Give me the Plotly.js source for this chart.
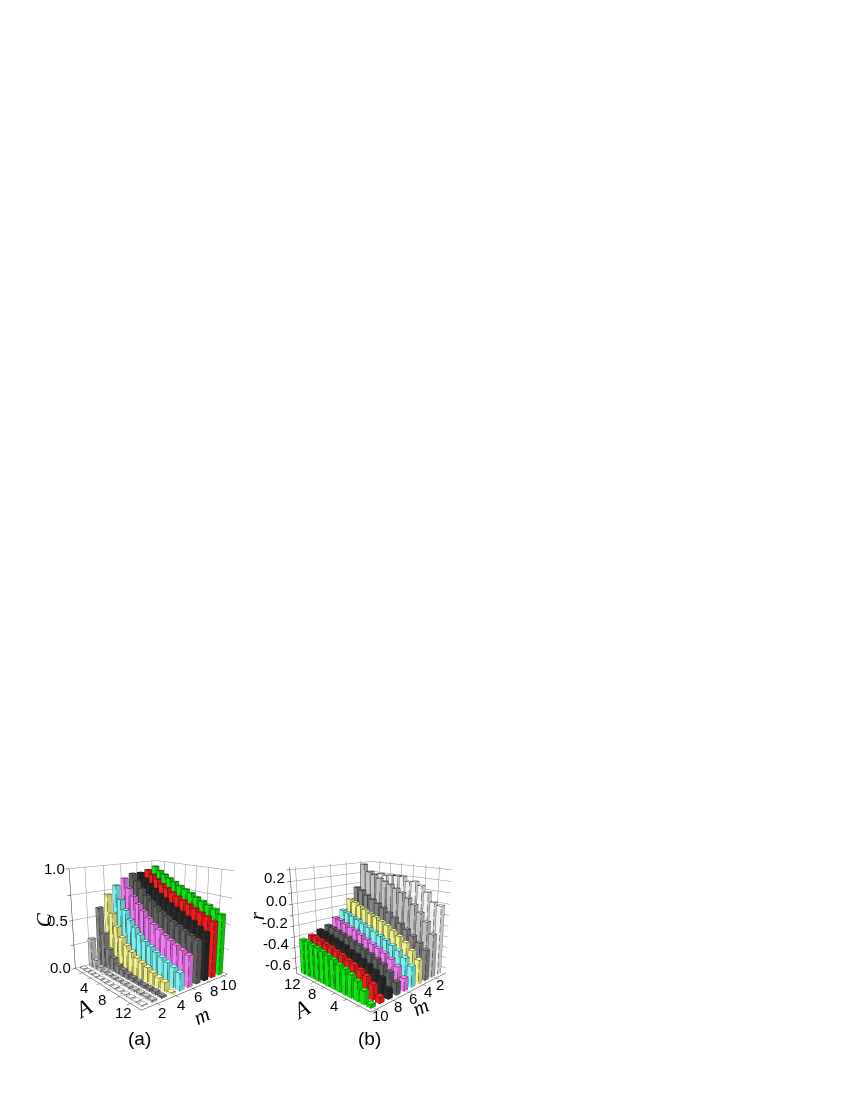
<!DOCTYPE html>
<html>
<head>
<meta charset="utf-8">
<script src="https://cdn.plot.ly/plotly-3.0.1.min.js"></script>
<style>
body { margin: 0; background: #fff; }
#chart { width: 850px; height: 1100px; }
</style>
</head>
<body>
<div id="chart"></div>
<script>
const valoresA = [1, 2, 3, 4, 5, 6, 7, 8, 9, 10, 11, 12, 13];
const valoresM = [1, 2, 3, 4, 5, 6, 7, 8, 9, 10];
const coloresM = ["#ffffff", "#cccccc", "#8c8c8c", "#ffff90", "#80ffff", "#ff80ff", "#666666", "#2c2c2c", "#ff2020", "#10f010"];

// C por fila de m, A = 1..13
const cM1 = [.012, .012, .012, .012, .012, .012, .012, .012, .012, .012, .012, .012, .012];
const cM2 = [.30, .10, .05, .03, .02, .02, .02, .02, .02, .02, .02, .02, .02];
const cM3 = [.60, .35, .21, .14, .09, .07, .055, .045, .035, .03, .03, .03, .02];
const cM4 = [.72, .54, .42, .33, .27, .225, .19, .165, .145, .12, .10, .085, .02];
const cM5 = [.80, .67, .575, .49, .43, .375, .33, .30, .265, .24, .215, .195, .17];
const cM6 = [.86, .77, .70, .635, .58, .525, .48, .445, .41, .38, .355, .33, .305];
const cM7 = [.90, .83, .765, .71, .665, .62, .585, .55, .52, .495, .47, .445, .42];
const cM8 = [.90, .85, .80, .76, .72, .685, .65, .62, .595, .56, .535, .50, .47];
const cM9 = [.92, .88, .84, .80, .77, .735, .705, .68, .655, .63, .605, .58, .55];
const cM10 = [.95, .91, .88, .85, .82, .79, .765, .74, .71, .685, .66, .635, .60];

// r por fila de m, A = 1..13
const rM1 = [-.01, .01, .09, .14, .17, .16, .20, .20, .20, .19, .20, .19, .21];
const rM2 = [-.25, -.15, -.08, -.02, .03, .07, .10, .13, .15, .17, .20, .22, .29];
const rM3 = [-.37, -.32, -.275, -.23, -.19, -.15, -.115, -.08, -.05, -.02, .01, .05, .07];
const rM4 = [-.43, -.365, -.31, -.27, -.235, -.20, -.175, -.15, -.13, -.105, -.08, -.055, -.035];
const rM5 = [-.46, -.405, -.36, -.33, -.30, -.28, -.255, -.23, -.21, -.185, -.165, -.145, -.13];
const rM6 = [-.535, -.455, -.41, -.375, -.35, -.33, -.305, -.28, -.255, -.24, -.22, -.20, -.19];
const rM7 = [-.54, -.475, -.43, -.405, -.38, -.36, -.335, -.32, -.30, -.285, -.27, -.255, -.245];
const rM8 = [-.565, -.495, -.46, -.43, -.405, -.38, -.365, -.34, -.325, -.31, -.295, -.28, -.27];
const rM9 = [-.595, -.515, -.47, -.44, -.415, -.40, -.375, -.36, -.345, -.33, -.315, -.30, -.30];
const rM10 = [-.62, -.535, -.48, -.45, -.425, -.41, -.385, -.37, -.355, -.34, -.335, -.32, -.32];

const filasC = [cM1, cM2, cM3, cM4, cM5, cM6, cM7, cM8, cM9, cM10];
const filasR = [rM1, rM2, rM3, rM4, rM5, rM6, rM7, rM8, rM9, rM10];

const ticksA = [4, 8, 12];
const ticksM = [2, 4, 6, 8, 10];
const ticksC = [0, 0.5, 1];
const ticksCTexto = ["0.0", "0.5", "1.0"];
const ticksR = [-0.6, -0.4, -0.2, 0, 0.2];
const ticksRTexto = ["-0.6", "-0.4", "-0.2", "0.0", "0.2"];
const rejillaA = [2, 4, 6, 8, 10, 12];
const rejillaC = [0, 0.25, 0.5, 0.75, 1];
const rejillaR = [-0.6, -0.5, -0.4, -0.3, -0.2, -0.1, 0, 0.1, 0.2, 0.3];

const anchoA = 0.34;  // medio ancho de barra en A
const anchoM = 0.26;  // medio ancho de barra en m
const rangoA = [0.2, 13.8];
const rangoM = [0.4, 10.6];
const rangoC = [0, 1];
const rangoR = [-0.65, 0.32];

function oscurecer(hex, f) {
    const n = parseInt(hex.slice(1), 16);
    const c = [(n >> 16) & 255, (n >> 8) & 255, n & 255].map(v => Math.round(v * f));
    return `rgb(${c[0]},${c[1]},${c[2]})`;
}

function barrasDeFila(fila, m, color, base, escena, sombraX, sombraY) {
    const x = [], y = [], z = [], i = [], j = [], k = [], caras = [];
    const lx = [], ly = [], lz = [];
    fila.forEach((v, n) => {
        const a = valoresA[n];
        const o = x.length;
        const xs = [a - anchoA, a + anchoA, a + anchoA, a - anchoA];
        const ys = [m - anchoM, m - anchoM, m + anchoM, m + anchoM];
        for (let q = 0; q < 4; q++) { x.push(xs[q]); y.push(ys[q]); z.push(base); }
        for (let q = 0; q < 4; q++) { x.push(xs[q]); y.push(ys[q]); z.push(v); }
        const quads = [
            [4, 5, 6, 7, 1], [0, 1, 5, 4, sombraY], [2, 3, 7, 6, sombraY],
            [1, 2, 6, 5, sombraX], [3, 0, 4, 7, sombraX]
        ];
        quads.forEach(c => {
            i.push(o + c[0], o + c[0]);
            j.push(o + c[1], o + c[2]);
            k.push(o + c[2], o + c[3]);
            caras.push(oscurecer(color, c[4]), oscurecer(color, c[4]));
        });
        // aristas de la barra
        for (let q = 0; q <= 4; q++) { lx.push(xs[q % 4]); ly.push(ys[q % 4]); lz.push(v); }
        lx.push(null); ly.push(null); lz.push(null);
        for (let q = 0; q < 4; q++) {
            lx.push(xs[q], xs[q], null); ly.push(ys[q], ys[q], null); lz.push(base, v, null);
        }
    });
    return [
        { type: "mesh3d", scene: escena, x, y, z, i, j, k, facecolor: caras, flatshading: true,
          lighting: { ambient: 1, diffuse: 0, specular: 0, fresnel: 0, roughness: 1 },
          hoverinfo: "skip", showscale: false },
        { type: "scatter3d", mode: "lines", scene: escena, x: lx, y: ly, z: lz, connectgaps: false,
          line: { color: "#111", width: 1 }, hoverinfo: "skip", showlegend: false }
    ];
}

const traces = [];
filasC.forEach((fila, n) => traces.push(...barrasDeFila(fila, valoresM[n], coloresM[n], rangoC[0], "scene", 0.78, 0.95)));
filasR.forEach((fila, n) => traces.push(...barrasDeFila(fila, valoresM[n], coloresM[n], rangoR[0], "scene2", 0.78, 0.95)));

function ejeBase(rango, ticks) {
    return {
        range: rango, autorange: false, title: { text: "" },
        tickmode: "array", tickvals: ticks, showticklabels: false,
        ticks: "outside", ticklen: 3, tickcolor: "#333", tickwidth: 1,
        showgrid: true, gridcolor: "#8c8c8c", gridwidth: 1,
        showline: true, linecolor: "#222", linewidth: 1,
        zeroline: false, showbackground: false, showspikes: false
    };
}

const fuenteTick = { family: "Liberation Sans, Arial, sans-serif", size: 15, color: "#000" };
const fuenteTitulo = { family: "Liberation Serif, serif", size: 21, color: "#000" };
const fuenteTituloA = { family: "Liberation Serif, serif", size: 23, color: "#000" };

// etiqueta anclada a un punto de la caja, desplazada en pixeles
function anot(x, y, z, texto, fuente, dx, dy, angulo, ancla) {
    return { x, y, z, text: texto, showarrow: false, font: fuente, xshift: dx, yshift: -dy,
             textangle: angulo || 0, xanchor: ancla || "center", yanchor: "middle" };
}

const anotA = [];
ticksA.forEach(t => anotA.push(anot(t, rangoM[0], rangoC[0], String(t), fuenteTick, -7, 10)));
ticksM.forEach(t => anotA.push(anot(rangoA[1], t, rangoC[0], String(t), fuenteTick, 5, 9)));
ticksC.forEach((t, n) => anotA.push(anot(rangoA[0], rangoM[0], t, ticksCTexto[n], fuenteTick, -2, 0, 0, "right")));
anotA.push(anot(3, rangoM[0], rangoC[0], "<i>A</i>", fuenteTituloA, -3, 34, -30));
anotA.push(anot(rangoA[1], 7, rangoC[0], "<i>m</i>", fuenteTitulo, 0, 31, -25));
anotA.push(anot(rangoA[0], rangoM[0], 0.5, "<i>C</i>", fuenteTitulo, -28, 0, -90));

const anotB = [];
ticksA.forEach(t => anotB.push(anot(t, rangoM[1], rangoR[0], String(t), fuenteTick, -12, 7)));
ticksM.forEach(t => anotB.push(anot(rangoA[0], t, rangoR[0], String(t), fuenteTick, 5, 7)));
ticksR.forEach((t, n) => anotB.push(anot(rangoA[1], rangoM[1], t, ticksRTexto[n], fuenteTick, -3, -3, 0, "right")));
anotB.push(anot(8, rangoM[1], rangoR[0], "<i>A</i>", fuenteTituloA, -22, 23, -30));
anotB.push(anot(rangoA[0], 5, rangoR[0], "<i>m</i>", fuenteTitulo, 5, 19, -25));
anotB.push(anot(rangoA[1], rangoM[1], -0.1, "<i>r</i>", fuenteTitulo, -35, 1, -90));

function escena(dominioX, dominioY, ejeZ, eye, aspecto, anotaciones) {
    return {
        domain: { x: dominioX, y: dominioY },
        xaxis: ejeBase(rangoA, rejillaA),
        yaxis: ejeBase(rangoM, ticksM),
        zaxis: ejeZ,
        aspectmode: "manual",
        aspectratio: aspecto,
        camera: { eye, center: { x: 0, y: 0, z: 0 }, up: { x: 0, y: 0, z: 1 }, projection: { type: "perspective" } },
        annotations: anotaciones,
        bgcolor: "rgba(0,0,0,0)"
    };
}

const alto = 1100;
const layout = {
    width: 850, height: alto, showlegend: false,
    margin: { l: 0, r: 0, t: 0, b: 0 },
    paper_bgcolor: "#fff",
    scene: escena([30 / 850, 270 / 850], [1 - 1069.5 / alto, 1 - 774.5 / alto], ejeBase(rangoC, rejillaC),
        { x: 2.968, y: -2.472, z: 1.12 }, { x: 1.27, y: 1.27, z: 1.19 }, anotA),
    scene2: escena([270.5 / 850, 470.5 / 850], [1 - 1063.5 / alto, 1 - 780.5 / alto], ejeBase(rangoR, rejillaR),
        { x: -2.736, y: 2.736, z: 1.10 }, { x: 1.295, y: 1.295, z: 1.29 }, anotB),
    annotations: [
        { xref: "paper", yref: "paper", x: 139 / 850, y: 1 - 1038 / alto, text: "(a)", showarrow: false, xanchor: "center", yanchor: "middle", font: { family: "Liberation Sans, Arial, sans-serif", size: 19, color: "#000" } },
        { xref: "paper", yref: "paper", x: 369 / 850, y: 1 - 1038 / alto, text: "(b)", showarrow: false, xanchor: "center", yanchor: "middle", font: { family: "Liberation Sans, Arial, sans-serif", size: 19, color: "#000" } }
    ]
};

Plotly.newPlot("chart", traces, layout, { displayModeBar: false });
</script>
</body>
</html>
